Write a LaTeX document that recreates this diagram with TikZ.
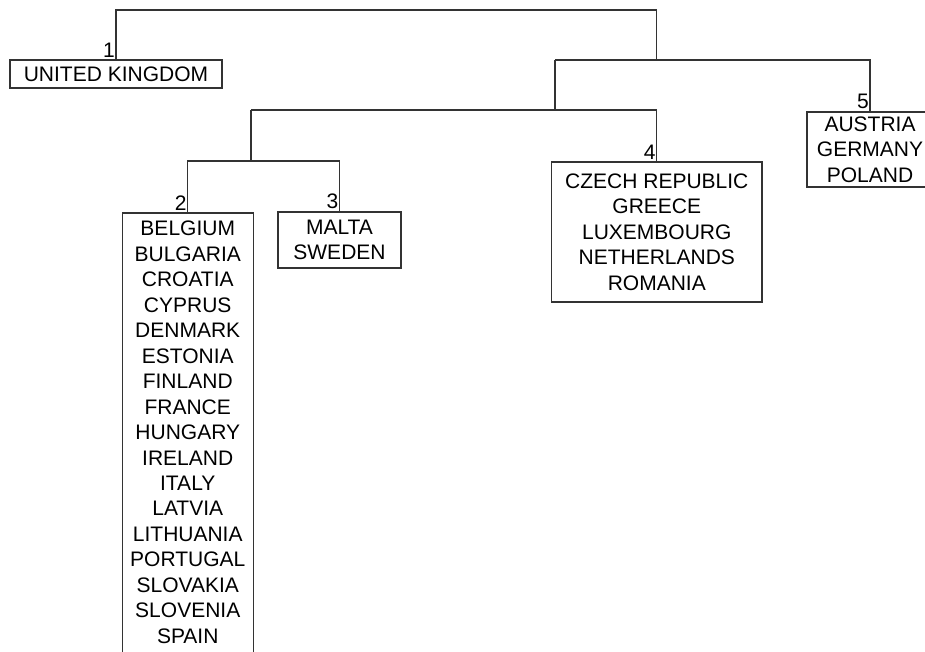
\documentclass[tikz,border=0pt]{standalone}
\usepackage{fontspec}
\setmainfont{Liberation Sans}
\usepackage{tikz}
\usetikzlibrary{calc}

\begin{document}
\begin{tikzpicture}[x=1pt,y=-1pt,
                country/.style={draw=black!80,line width=1.2pt,align=center,inner sep=0pt,
                        font=\fontsize{21}{25.45}\selectfont},
                link/.style={draw=black!80,line width=1.2pt},
                num/.style={anchor=south east,inner sep=0pt,font=\fontsize{21}{25.45}\selectfont}]
                \clip (0,0) rectangle (925,652);
                \fill [white] (0,0) rectangle (925,652);
                \node [country,minimum width=212pt,minimum height=28pt] (uk) at (116,74) {UNITED KINGDOM};
                \node [country,draw=none,anchor=north,minimum width=129.5pt,inner ysep=7.7pt] (c2) at (187.75,213)
                        {BELGIUM\\BULGARIA\\CROATIA\\CYPRUS\\DENMARK\\ESTONIA\\FINLAND\\FRANCE\\HUNGARY\\
                         IRELAND\\ITALY\\LATVIA\\LITHUANIA\\PORTUGAL\\SLOVAKIA\\SLOVENIA\\SPAIN};
                \draw [link] (c2.north west) rectangle ([yshift=-20pt]c2.south east);
                \node [country,minimum width=123pt,minimum height=56pt] (c3) at (339.5,240) {MALTA\\SWEDEN};
                \node [country,minimum width=210.5pt,minimum height=140pt] (c4) at (656.8,232)
                        {CZECH REPUBLIC\\GREECE\\LUXEMBOURG\\NETHERLANDS\\ROMANIA};
                \node [country,minimum width=126pt,minimum height=75pt] (c5) at (870,149.5) {AUSTRIA\\GERMANY\\POLAND};
                \node [num] (n1) at ([xshift=-1pt,yshift=2pt]uk.north) {1};
                \node [num] (n2) at ([xshift=-1pt,yshift=2pt]c2.north) {2};
                \node [num] (n3) at ([xshift=-1pt,yshift=2pt]c3.north) {3};
                \node [num] (n4) at ([xshift=-1pt,yshift=2pt]c4.north) {4};
                \node [num] (n5) at ([xshift=-1pt,yshift=2pt]c5.north) {5};
                \coordinate (j0) at (656.8,10);
                \coordinate (j1) at (656.8,60);
                \coordinate (j1l) at (555,60);
                \coordinate (j2) at (555,110);
                \coordinate (j2l) at (251,110);
                \coordinate (j3) at (251,161);
                \draw [link] (uk.north) |- (j0) -- (j1);
                \draw [link] (j1l) -| (c5.north);
                \draw [link] (j1l) -- (j2);
                \draw [link] (j2l) -| (c4.north);
                \draw [link] (j2l) -- (j3);
                \draw [link] (c2.north) |- (j3) -| (c3.north);
            \end{tikzpicture}
\end{document}
